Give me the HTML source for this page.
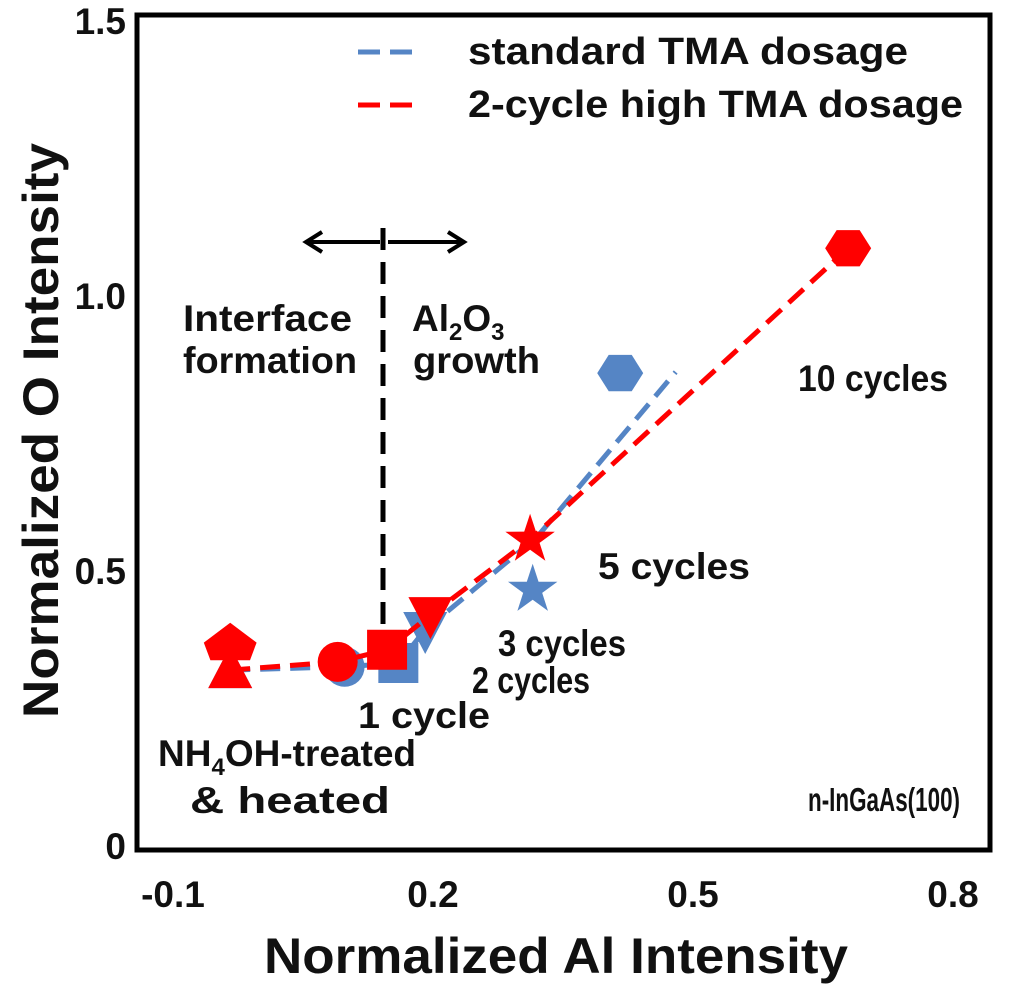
<!DOCTYPE html>
<html><head><meta charset="utf-8"><style>
body{margin:0;background:#fff;}
svg text{font-family:"Liberation Sans",Arial,sans-serif;font-weight:bold;fill:#111;}
</style></head><body>
<svg id="chart" width="1024" height="991" viewBox="0 0 1024 991" xmlns="http://www.w3.org/2000/svg">
<rect x="137" y="15" width="853" height="835" fill="none" stroke="#000" stroke-width="5"/>
<g id="ticks"></g>
<text x="264" y="973" font-size="50" textLength="584" lengthAdjust="spacingAndGlyphs">Normalized Al Intensity</text>
<text transform="translate(58,718) rotate(-90)" font-size="50" textLength="575" lengthAdjust="spacingAndGlyphs">Normalized O Intensity</text>
<line x1="358" y1="52" x2="414" y2="52" stroke="#5585c5" stroke-width="5" stroke-dasharray="22,10"/>
<text x="468" y="64" font-size="38" textLength="440" lengthAdjust="spacingAndGlyphs">standard  TMA dosage</text>
<line x1="358" y1="105" x2="414" y2="105" stroke="#f00" stroke-width="5" stroke-dasharray="22,10"/>
<text x="468" y="117" font-size="38" textLength="495" lengthAdjust="spacingAndGlyphs">2-cycle high TMA dosage</text>
<line x1="383" y1="228" x2="383" y2="672" stroke="#000" stroke-width="5" stroke-dasharray="22,12"/>
<g stroke="#000" stroke-width="4" fill="none">
<line x1="380" y1="242" x2="308" y2="242"/><polyline points="322,232 306,242 322,252"/>
<line x1="388" y1="242" x2="462" y2="242"/><polyline points="448,232 464,242 448,252"/>
</g>
<g font-size="37">
<text x="183" y="331" textLength="169" lengthAdjust="spacingAndGlyphs">Interface</text>
<text x="183" y="373" textLength="174" lengthAdjust="spacingAndGlyphs">formation</text>
<text x="412" y="331">Al<tspan font-size="24" dy="9">2</tspan><tspan dy="-9">O</tspan><tspan font-size="24" dy="9">3</tspan></text>
<text x="413" y="373" textLength="127" lengthAdjust="spacingAndGlyphs">growth</text>
<text x="798" y="391" textLength="150" lengthAdjust="spacingAndGlyphs">10 cycles</text>
<text x="598" y="579" textLength="152" lengthAdjust="spacingAndGlyphs">5 cycles</text>
<text x="498" y="656" textLength="128" lengthAdjust="spacingAndGlyphs">3 cycles</text>
<text x="472" y="693" textLength="118" lengthAdjust="spacingAndGlyphs">2 cycles</text>
<text x="358" y="728" textLength="132" lengthAdjust="spacingAndGlyphs">1 cycle</text>
<text x="158" y="766">NH<tspan font-size="24" dy="9">4</tspan><tspan dy="-9">OH-treated</tspan></text>
<text x="190" y="813" textLength="200" lengthAdjust="spacingAndGlyphs">&amp; heated</text>
<text x="808" y="811" font-size="33" textLength="152" lengthAdjust="spacingAndGlyphs">n-InGaAs(100)</text>
</g>
<g id="series"></g>
</svg>
<script>
const xTicks=[-0.1,0.2,0.5,0.8];
const xTickLabels=["-0.1","0.2","0.5","0.8"];
const yTicks=[0,0.5,1.0,1.5];
const yTickLabels=["0","0.5","1.0","1.5"];
const markers=["triangle","circle","square","invtriangle","star","hexagon"];
const blueX=[-0.034,0.098,0.16,0.191,0.315,0.416];
const blueY=[0.318,0.324,0.331,0.391,0.464,0.858];
const blueLineX=[-0.034,0.098,0.16,0.191,0.32,0.48];
const blueLineY=[0.318,0.324,0.331,0.391,0.56,0.86];
const redX=[-0.034,0.09,0.147,0.197,0.312,0.679];
const redY=[0.318,0.333,0.355,0.418,0.555,1.085];
const redExtraX=[-0.034];
const redExtraY=[0.36];
const X=v=>173+(v+0.1)*866.7;
const Y=v=>845-v*550;
const NS="http://www.w3.org/2000/svg";
const ticks=document.getElementById('ticks');
const ser=document.getElementById('series');
function mk(tag,attrs,parent){const e=document.createElementNS(NS,tag);for(const k in attrs)e.setAttribute(k,attrs[k]);parent.appendChild(e);return e;}
xTicks.forEach((v,i)=>{const t=mk('text',{x:X(v),y:907,'font-size':37,'text-anchor':'middle'},ticks);t.textContent=xTickLabels[i];

});
yTicks.forEach((v,i)=>{const t=mk('text',{x:126,y:Y(v)+14,'font-size':37,'text-anchor':'end'},ticks);t.textContent=yTickLabels[i];

});
function shape(type,cx,cy,color,r){
 let pts;
 if(type==='circle'){return mk('circle',{cx:cx,cy:cy,r:r,fill:color},ser);}
 if(type==='square')pts=[[-r,-r],[r,-r],[r,r],[-r,r]];
 if(type==='triangle')pts=[[0,-r*1.2],[r*1.1,r*0.9],[-r*1.1,r*0.9]];
 if(type==='invtriangle')pts=[[-r*1.1,-r*0.9],[r*1.1,-r*0.9],[0,r*1.2]];
 if(type==='diamond')pts=[[0,-r*1.1],[r*1.2,-r*0.2],[r*0.9,r*0.6],[-r*0.9,r*0.6],[-r*1.2,-r*0.2]];
 if(type==='hexagon'){pts=[];for(let k=0;k<6;k++){const a=k*Math.PI/3;pts.push([Math.cos(a)*r*1.15,Math.sin(a)*r*1.05]);}}
 if(type==='star'){pts=[];for(let k=0;k<10;k++){const a=-Math.PI/2+k*Math.PI/5;const rr=k%2?r*0.5:r*1.3;pts.push([Math.cos(a)*rr,Math.sin(a)*rr]);}}
 return mk('polygon',{points:pts.map(p=>(cx+p[0])+','+(cy+p[1])).join(' '),fill:color},ser);
}
const bl=mk('polyline',{points:blueLineX.map((v,i)=>X(v)+','+Y(blueLineY[i])).join(' '),fill:'none',stroke:'#5585c5','stroke-width':5,'stroke-dasharray':'20,10'},ser);


blueX.forEach((v,i)=>{const s=shape(markers[i],X(v),Y(blueY[i]),'#5585c5',20);

});
const rl=mk('polyline',{points:redX.map((v,i)=>X(v)+','+Y(redY[i])).join(' '),fill:'none',stroke:'#f00','stroke-width':5,'stroke-dasharray':'20,10'},ser);


redExtraX.forEach((v,i)=>{const s=shape('diamond',X(v),Y(redExtraY[i]),'#f00',22);

});
redX.forEach((v,i)=>{const s=shape(markers[i],X(v),Y(redY[i]),'#f00',20);

});
</script>
</body></html>
